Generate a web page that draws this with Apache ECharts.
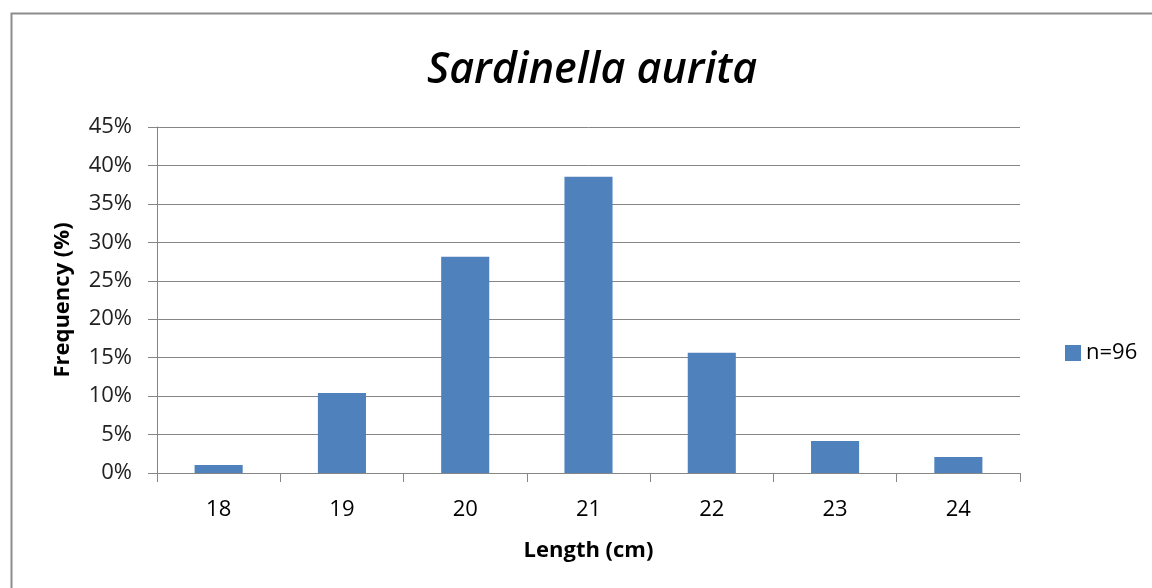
<!DOCTYPE html>
<html><head><meta charset="utf-8">
<script src="https://cdn.jsdelivr.net/npm/echarts@6/dist/echarts.min.js"></script>
<style>html,body{margin:0;padding:0;background:#fff}#c{width:1152px;height:588px}</style>
</head><body><div id="c"></div>
<script>
var categories = ['18','19','20','21','22','23','24'];
var seriesName = 'n=96';
var values = [1.04, 10.42, 28.13, 38.54, 15.63, 4.17, 2.08];
var yTicks = {min:0, max:45, interval:5};

var FONT = '"Open Sans", sans-serif';
var chart = echarts.init(document.getElementById('c'));
chart.setOption({
  animation:false,
  backgroundColor:'#fff',
  title:{text:'Sardinella aurita', left:587, top:44, textAlign:'center',
    textStyle:{fontFamily:FONT, fontStyle:'italic', fontWeight:600, fontSize:43, color:'#000'}},
  graphic:[{type:'polyline', shape:{points:[[11.5,700],[11.5,13.5],[1200,13.5]]}, style:{fill:'none', stroke:'#8c8c8c', lineWidth:2}, silent:true}],
  legend:{top:337, left:1060, itemWidth:16, itemHeight:16, itemGap:6,
    icon:'rect', textStyle:{fontFamily:FONT, fontSize:22, color:'#000'}, data:[seriesName]},
  grid:{left:157, right:132, top:127, bottom:115},
  xAxis:{type:'category', data:categories,
    name:'Length (cm)', nameLocation:'middle', nameGap:67,
    nameTextStyle:{fontFamily:FONT, fontWeight:'bold', fontSize:22, color:'#000'},
    axisLine:{lineStyle:{color:'#868686'}},
    axisTick:{show:true, length:9, lineStyle:{color:'#868686'}},
    axisLabel:{fontFamily:FONT, fontSize:22, color:'#000', margin:26}},
  yAxis:{type:'value', min:yTicks.min, max:yTicks.max, interval:yTicks.interval,
    name:'Frequency (%)', nameLocation:'middle', nameGap:83,
    nameTextStyle:{fontFamily:FONT, fontWeight:'bold', fontSize:22, color:'#000'},
    axisLine:{show:true, lineStyle:{color:'#868686'}},
    axisTick:{show:true, length:9, inside:false, lineStyle:{color:'#868686'}},
    splitLine:{lineStyle:{color:'#868686'}},
    axisLabel:{fontFamily:FONT, fontSize:22, color:'#222', margin:25, formatter:'{value}%'}},
  series:[{name:seriesName, type:'bar', data:values, barWidth:'39%', itemStyle:{color:'#4F81BD'}}]
});
</script></body></html>
